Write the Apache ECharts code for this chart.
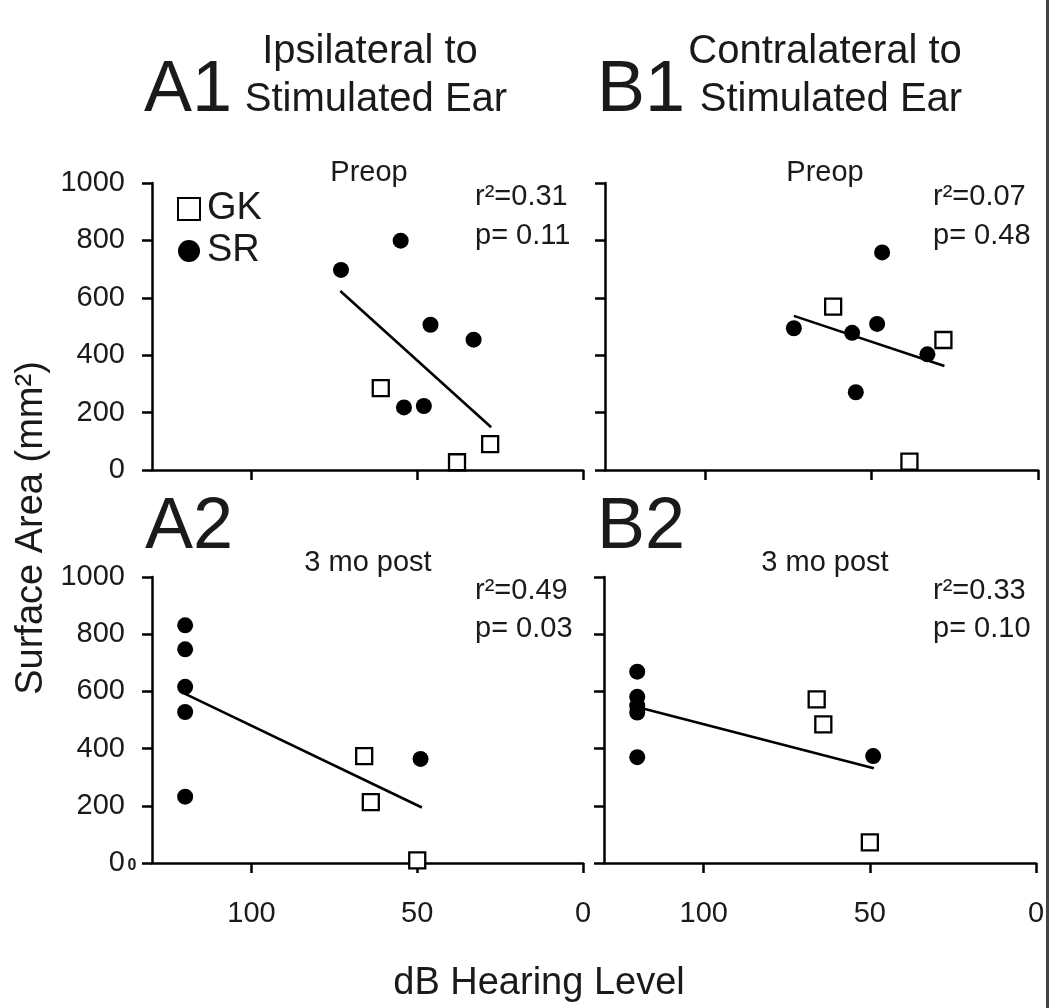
<!DOCTYPE html>
<html>
<head>
<meta charset="utf-8">
<script src="https://cdn.jsdelivr.net/npm/echarts@6/dist/echarts.min.js"></script>
<style>
html,body{margin:0;padding:0;background:#fff;}
#chart{width:1050px;height:1008px;}
</style>
</head>
<body>
<div id="chart"></div>
<script>
// ---- data ----
const xTicks = [0, 50, 100];
const yTicks = [0, 200, 400, 600, 800, 1000];

// A1: Ipsilateral, Preop
const a1GkX = [61, 28, 38];
const a1GkY = [285, 90, 27];
const a1SrX = [73, 55, 46, 33, 54, 48];
const a1SrY = [697, 799, 506, 454, 218, 223];
const a1FitX = [73.2, 27.7];
const a1FitY = [624, 149];

// B1: Contralateral, Preop
const b1GkX = [61.5, 28.4, 38.6];
const b1GkY = [569, 453, 29];
const b1SrX = [73.3, 55.8, 46.8, 48.3, 54.7, 33.2];
const b1SrY = [494, 478, 758, 509, 271, 403];
const b1FitX = [73.3, 28.1];
const b1FitY = [537, 362];

// A2: Ipsilateral, 3 mo post
const a2GkX = [66, 64, 50];
const a2GkY = [374, 213, 9];
const a2SrX = [120, 120, 120, 120, 120, 49];
const a2SrY = [831, 747, 616, 528, 232, 364];
const a2FitX = [120.3, 48.6];
const a2FitY = [593, 194];

// B2: Contralateral, 3 mo post
const b2GkX = [66, 64, 50];
const b2GkY = [572, 485, 72];
const b2SrX = [120, 120, 120, 120, 120, 49];
const b2SrY = [669, 581, 550, 526, 370, 374];
const b2FitX = [120.3, 48.8];
const b2FitY = [546, 331];

const stats = {
  a1: ['r²=0.31', 'p= 0.11'],
  b1: ['r²=0.07', 'p= 0.48'],
  a2: ['r²=0.49', 'p= 0.03'],
  b2: ['r²=0.33', 'p= 0.10']
};

// ---- helpers ----
const FONT = "'Liberation Sans', Arial, Helvetica, sans-serif";
const INK = '#1a1a1a';
const zip = (xs, ys) => xs.map((x, i) => [x, ys[i]]);

const grids = [
  {left: 152, top: 183, width: 431, height: 287},
  {left: 605, top: 183, width: 433, height: 287},
  {left: 152, top: 577, width: 431, height: 286},
  {left: 604, top: 577, width: 432, height: 286}
];

function xAx(i, showLabel) {
  return {
    gridIndex: i, type: 'value', min: 0, max: 130, inverse: true,
    splitLine: {show: false},
    axisLine: {show: true, onZero: false, lineStyle: {color: '#000', width: 2.5}},
    axisTick: {show: true, inside: false, length: 10, lineStyle: {color: '#000', width: 2.5}, customValues: xTicks},
    axisLabel: {show: showLabel, customValues: xTicks, fontSize: 29, fontFamily: FONT, color: INK, margin: 36}
  };
}
function yAx(i, showLabel) {
  return {
    gridIndex: i, type: 'value', min: yTicks[0], max: yTicks[yTicks.length - 1], interval: 200,
    splitLine: {show: false},
    axisLine: {show: true, onZero: false, lineStyle: {color: '#000', width: 2.5}},
    axisTick: {show: true, inside: false, length: 10, lineStyle: {color: '#000', width: 2.5}},
    axisLabel: {show: showLabel, fontSize: 29, fontFamily: FONT, color: INK, margin: 27,
      formatter: v => String(v)}
  };
}

const gkStyle = {symbol: 'rect', symbolSize: 16, itemStyle: {color: '#fff', borderColor: '#000', borderWidth: 2.3, opacity: 1}};
const srStyle = {symbol: 'circle', symbolSize: 16, itemStyle: {color: '#000', opacity: 1}};

function panelSeries(i, gx, gy, sx, sy, fx, fy) {
  return [
    {type: 'line', name: 'fit' + i, xAxisIndex: i, yAxisIndex: i, data: zip(fx, fy),
      symbol: 'none', lineStyle: {color: '#000', width: 2.6}, z: 2, silent: true},
    Object.assign({type: 'scatter', name: 'GK', xAxisIndex: i, yAxisIndex: i, data: zip(gx, gy), z: 3}, gkStyle),
    Object.assign({type: 'scatter', name: 'SR', xAxisIndex: i, yAxisIndex: i, data: zip(sx, sy), z: 4}, srStyle)
  ];
}

function txt(text, x, y, size, align, extra) {
  return Object.assign({
    type: 'text', x: x, y: y, z: 10,
    style: {text: text, font: size + 'px ' + FONT, fill: INK,
      textAlign: align, align: align, textVerticalAlign: 'middle', verticalAlign: 'middle'}
  }, extra || {});
}

const graphics = [
  txt('A1', 144, 91, 72, 'left'),
  txt('Ipsilateral to', 370, 52, 40, 'center'),
  txt('Stimulated Ear', 376, 100, 40, 'center'),
  txt('B1', 597, 91, 72, 'left'),
  txt('Contralateral to', 825, 52, 40, 'center'),
  txt('Stimulated Ear', 831, 100, 40, 'center'),
  txt('A2', 145, 528, 72, 'left'),
  txt('B2', 597, 528, 72, 'left'),
  txt('Preop', 369, 173, 29, 'center'),
  txt('Preop', 825, 173, 29, 'center'),
  txt('3 mo post', 368, 563, 29, 'center'),
  txt('3 mo post', 825, 563, 29, 'center'),
  txt(stats.a1[0], 475, 197, 29, 'left'),
  txt(stats.a1[1], 475, 236, 29, 'left'),
  txt(stats.b1[0], 933, 197, 29, 'left'),
  txt(stats.b1[1], 933, 236, 29, 'left'),
  txt(stats.a2[0], 475, 591, 29, 'left'),
  txt(stats.a2[1], 475, 629, 29, 'left'),
  txt(stats.b2[0], 933, 591, 29, 'left'),
  txt(stats.b2[1], 933, 629, 29, 'left'),
  txt('Surface Area (mm²)', 32, 528, 38, 'center', {rotation: Math.PI / 2}),
  txt('dB Hearing Level', 539, 984, 38, 'center'),
  {type: 'text', x: 132, y: 866, z: 10,
    style: {text: '0', font: 'bold 16px ' + FONT, fill: INK, textAlign: 'center', align: 'center', textVerticalAlign: 'middle', verticalAlign: 'middle'}},
  {type: 'rect', shape: {x: 1046, y: 0, width: 3, height: 1008}, style: {fill: '#444'}, z: 10}
];

const chart = echarts.init(document.getElementById('chart'), null, {renderer: 'canvas'});
chart.setOption({
  animation: false,
  backgroundColor: '#fff',
  grid: grids,
  xAxis: [xAx(0, false), xAx(1, false), xAx(2, true), xAx(3, true)],
  yAxis: [yAx(0, true), yAx(1, false), yAx(2, true), yAx(3, false)],
  legend: {
    data: ['GK', 'SR'], orient: 'vertical', left: 177, top: 190, padding: 0,
    itemWidth: 22, itemHeight: 22, itemGap: 4, selectedMode: false,
    textStyle: {fontSize: 38, fontFamily: FONT, color: INK, padding: [0, 0, 0, 2]}
  },
  series: [].concat(
    panelSeries(0, a1GkX, a1GkY, a1SrX, a1SrY, a1FitX, a1FitY),
    panelSeries(1, b1GkX, b1GkY, b1SrX, b1SrY, b1FitX, b1FitY),
    panelSeries(2, a2GkX, a2GkY, a2SrX, a2SrY, a2FitX, a2FitY),
    panelSeries(3, b2GkX, b2GkY, b2SrX, b2SrY, b2FitX, b2FitY)
  ),
  graphic: graphics
});
</script>
</body>
</html>
